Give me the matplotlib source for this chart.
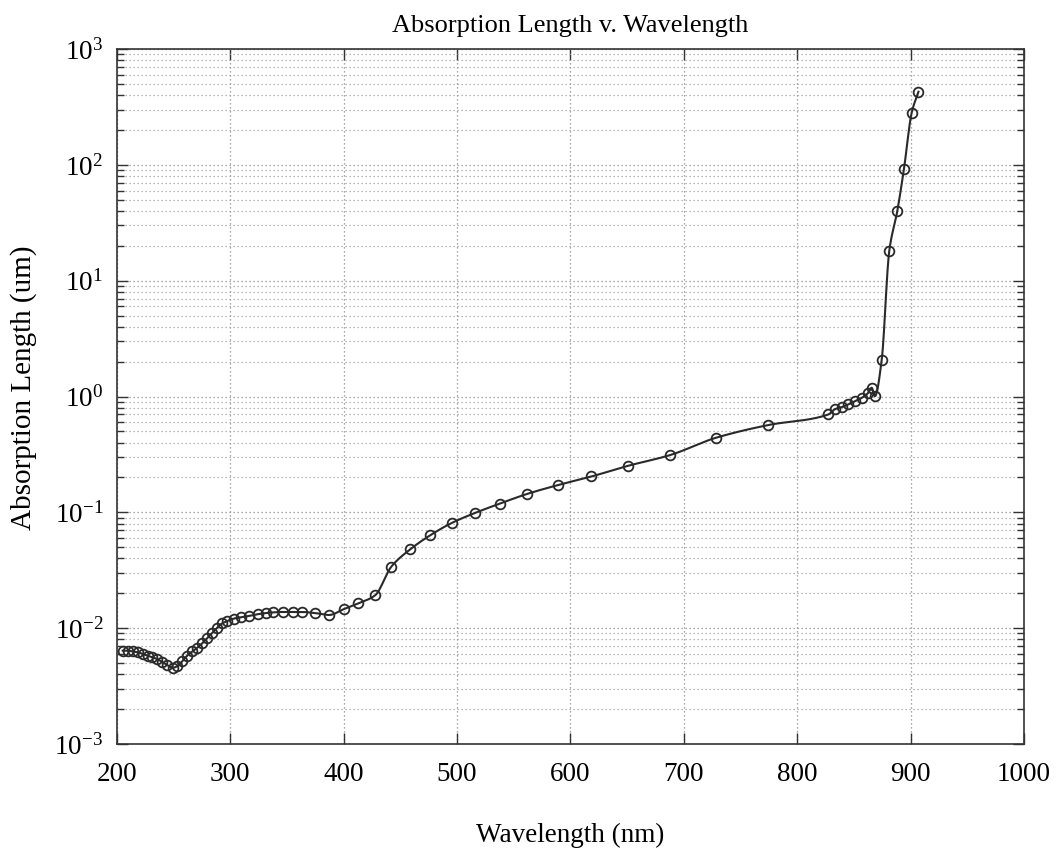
import numpy as np
import matplotlib
matplotlib.use("Agg")
import matplotlib.pyplot as plt
from matplotlib.ticker import FixedLocator, FuncFormatter, LogLocator, NullFormatter

plt.rcParams["font.family"] = ["Liberation Serif", "DejaVu Serif"]
plt.rcParams["mathtext.fontset"] = "custom"
plt.rcParams["mathtext.rm"] = "Liberation Serif"

# Silicon absorption length versus wavelength
wavelength_nm = [
    205, 209.4, 213.8, 218.2, 222.6, 227, 231.3, 235.7, 240, 244.5,
    249, 253.3, 257.7, 262, 266.5, 271, 275.2, 279.6, 284, 288.4,
    292.8, 297.2, 303, 309, 316, 324, 331, 338, 346, 355,
    363, 375, 387, 400, 413, 427.6, 442, 458.7, 476.5, 495.3,
    516, 537.7, 562, 589, 618.5, 650.6, 687.8, 728.2, 774, 827.5,
    833.4, 839.3, 845.1, 851, 857, 862.7, 865.7, 868.6, 874.5, 881.2,
    888.3, 894.2, 901, 907,
]
absorption_um = [
    0.0064, 0.0064, 0.0063, 0.0062, 0.0060, 0.0058, 0.0056, 0.0054, 0.0051, 0.0048,
    0.00455, 0.0047, 0.0052, 0.0058, 0.0063, 0.0068, 0.0074, 0.0082, 0.0091, 0.0101,
    0.0110, 0.0115, 0.0121, 0.0124, 0.0127, 0.0132, 0.0135, 0.0137, 0.0138, 0.0138,
    0.0138, 0.0135, 0.0130, 0.0146, 0.0164, 0.0192, 0.034, 0.048, 0.0636, 0.081,
    0.099, 0.119, 0.1445, 0.172, 0.204, 0.252, 0.312, 0.44, 0.566, 0.70,
    0.778, 0.81, 0.855, 0.912, 0.975, 1.077, 1.19, 1.008, 2.05, 18.0,
    39.9, 92.5, 282, 428,
]

x_ticks = [200, 300, 400, 500, 600, 700, 800, 900, 1000]
y_exponents = [-3, -2, -1, 0, 1, 2, 3]


def pchip(x, y, xs):
    """Shape-preserving piecewise cubic interpolation."""
    x = np.asarray(x, float)
    y = np.asarray(y, float)
    h = np.diff(x)
    delta = np.diff(y) / h
    n = len(x)
    d = np.zeros(n)
    for k in range(1, n - 1):
        if delta[k - 1] * delta[k] > 0:
            w1 = 2 * h[k] + h[k - 1]
            w2 = h[k] + 2 * h[k - 1]
            d[k] = (w1 + w2) / (w1 / delta[k - 1] + w2 / delta[k])
    d[0] = delta[0]
    d[-1] = delta[-1]
    idx = np.clip(np.searchsorted(x, xs) - 1, 0, n - 2)
    t = (xs - x[idx]) / h[idx]
    h00 = 2 * t**3 - 3 * t**2 + 1
    h10 = t**3 - 2 * t**2 + t
    h01 = -2 * t**3 + 3 * t**2
    h11 = t**3 - t**2
    return (h00 * y[idx] + h10 * h[idx] * d[idx]
            + h01 * y[idx + 1] + h11 * h[idx] * d[idx + 1])


wl = np.asarray(wavelength_nm)
logv = np.log10(absorption_um)
xs = np.linspace(wl[0], wl[-1], 3000)
ys = 10 ** pchip(wl, logv, xs)

fig = plt.figure(figsize=(10.57, 8.51), dpi=100)
ax = fig.add_axes([0.1107, 0.1257, 0.858, 0.8167])

ax.plot(xs, ys, color="#2a2a2a", lw=1.5, zorder=3)
ax.plot(wl, absorption_um, linestyle="none", marker="o", markersize=7,
        markerfacecolor="none", markeredgecolor="#2a2a2a", markeredgewidth=1.3,
        zorder=4)

ax.set_yscale("log")
ax.set_xlim(200, 1000)
ax.set_ylim(1e-3, 1e3)

ax.xaxis.set_major_locator(FixedLocator(x_ticks))
ax.yaxis.set_major_locator(FixedLocator([10.0**e for e in y_exponents]))
ax.yaxis.set_minor_locator(LogLocator(base=10, subs=np.arange(2, 10), numticks=20))
ax.yaxis.set_minor_formatter(NullFormatter())
ax.yaxis.set_major_formatter(
    FuncFormatter(lambda v, pos: r"$\mathregular{10^{%d}}$" % int(round(np.log10(v)))))

ax.grid(True, which="major", axis="both", color="#8a8a8a",
        linestyle=(0, (1, 2.2)), linewidth=0.9)
ax.grid(True, which="minor", axis="y", color="#a0a0a0",
        linestyle=(0, (1, 2.2)), linewidth=0.9)

ax.tick_params(which="both", direction="in", top=True, right=True,
               width=1.0, color="#333333")
ax.tick_params(which="major", length=8)
ax.tick_params(which="minor", length=5)
ax.tick_params(axis="x", which="major", labelsize=19.5, pad=13)
ax.tick_params(axis="y", which="major", labelsize=19.5, pad=10)
for s in ax.spines.values():
    s.set_linewidth(1.2)
    s.set_color("#333333")

ax.set_title("Absorption Length v. Wavelength", fontsize=19, pad=12)
ax.set_xlabel("Wavelength (nm)", fontsize=19.5, labelpad=26)
ax.set_ylabel("Absorption Length (um)", fontsize=21)
ax.yaxis.set_label_coords(-0.088, 0.513)

fig.savefig("out.png", dpi=100)
